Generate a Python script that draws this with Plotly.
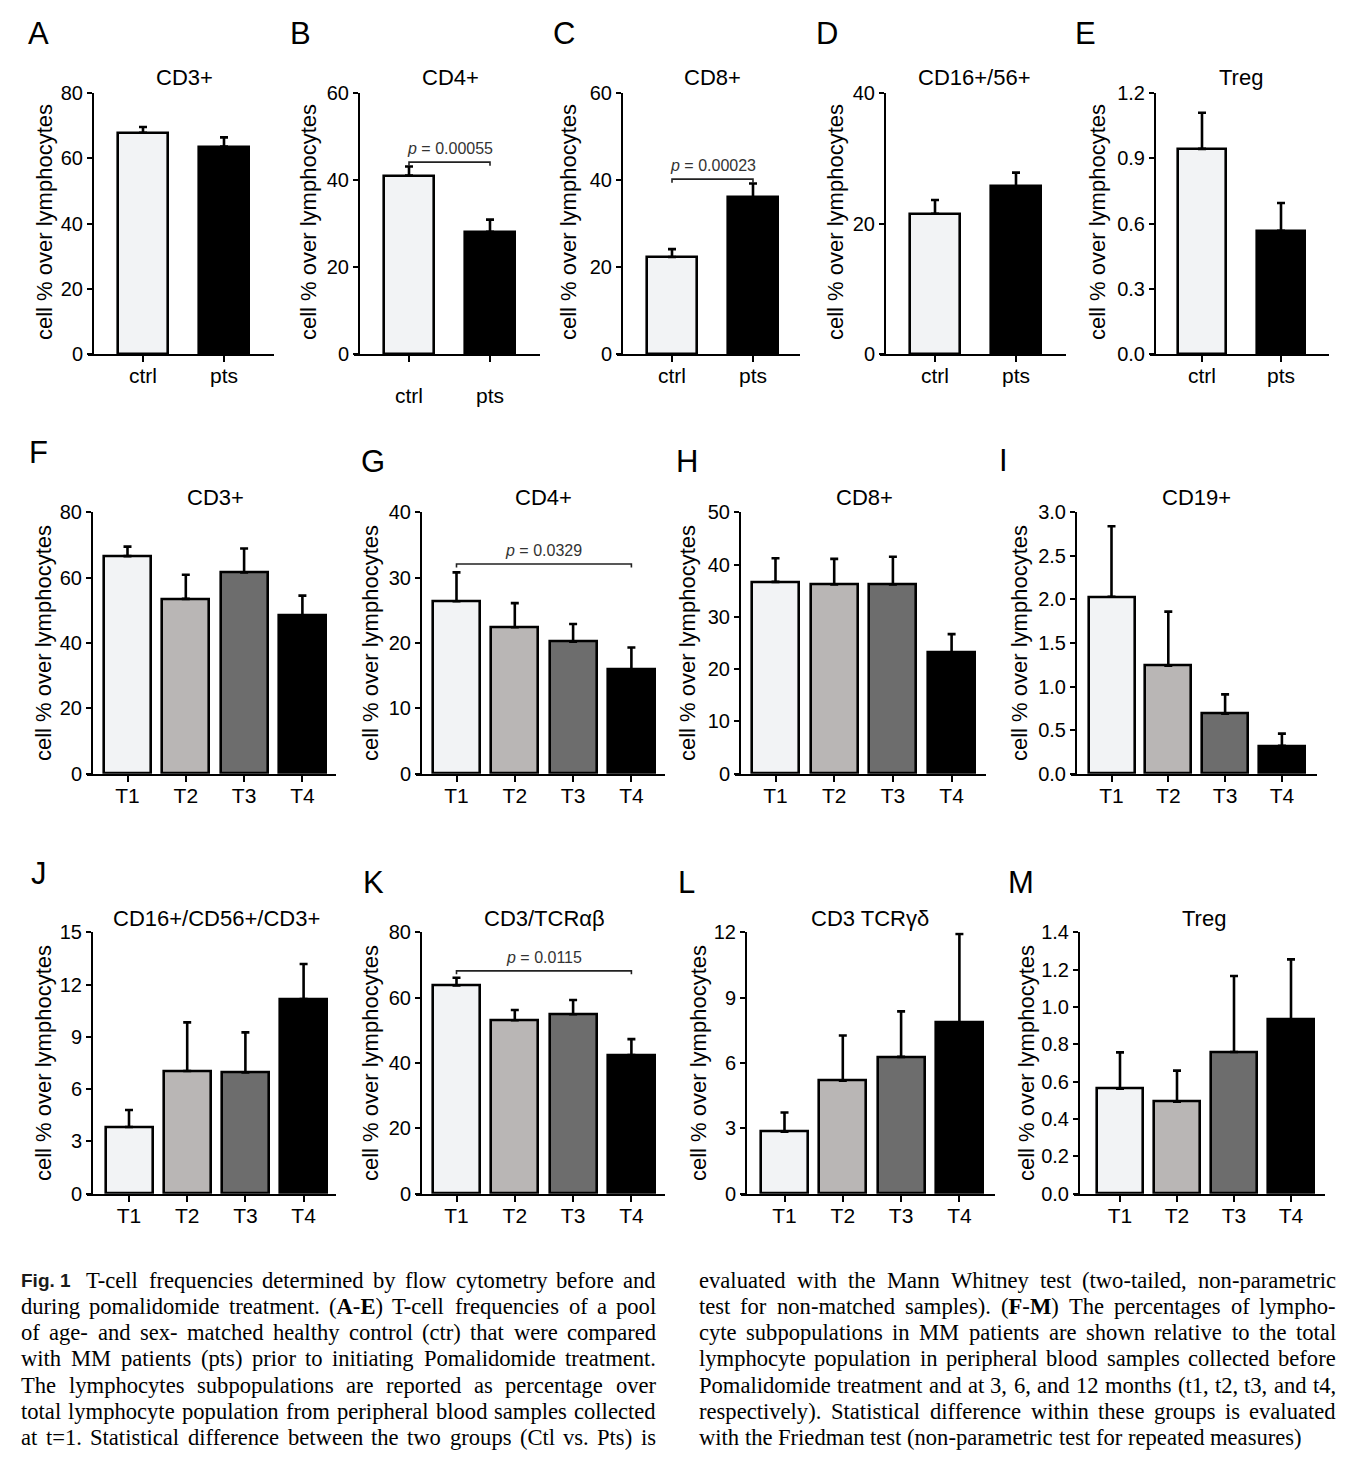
import plotly.graph_objects as go

# ------------------------------------------------------------------ data
groups_ab = ["ctrl", "pts"]
timepoints = ["T1", "T2", "T3", "T4"]

colors_ab = ["#f2f3f5", "#000000"]
colors_t = ["#f2f3f5", "#b9b6b5", "#6d6d6d", "#000000"]

# A-E : ctrl vs pts (mean, SEM)
cd3_pre_mean = [67.8, 63.6]
cd3_pre_sem = [1.8, 2.8]
cd4_pre_mean = [41.0, 28.1]
cd4_pre_sem = [2.1, 2.8]
cd8_pre_mean = [22.3, 36.0]
cd8_pre_sem = [1.8, 3.2]
nk_pre_mean = [21.5, 25.7]
nk_pre_sem = [2.1, 2.1]
treg_pre_mean = [0.943, 0.566]
treg_pre_sem = [0.166, 0.128]

# F-M : T1..T4 (mean, SEM)
cd3_t_mean = [66.6, 53.5, 61.6, 48.4]
cd3_t_sem = [2.9, 7.4, 7.3, 6.1]
cd4_t_mean = [26.4, 22.4, 20.2, 15.9]
cd4_t_sem = [4.4, 3.7, 2.7, 3.4]
cd8_t_mean = [36.7, 36.2, 36.2, 23.2]
cd8_t_sem = [4.5, 4.9, 5.3, 3.5]
cd19_t_mean = [2.03, 1.24, 0.69, 0.32]
cd19_t_sem = [0.81, 0.62, 0.22, 0.14]
nkt_t_mean = [3.83, 7.04, 6.96, 11.17]
nkt_t_sem = [0.97, 2.79, 2.30, 2.01]
tcrab_t_mean = [63.7, 53.1, 54.9, 42.4]
tcrab_t_sem = [2.4, 3.1, 4.4, 4.9]
tcrgd_t_mean = [2.85, 5.19, 6.28, 7.87]
tcrgd_t_sem = [0.88, 2.07, 2.09, 4.05]
treg_t_mean = [0.563, 0.493, 0.759, 0.934]
treg_t_sem = [0.194, 0.166, 0.407, 0.321]

# y tick values / labels
ticks_0_80 = [0, 20, 40, 60, 80]
ticks_0_60 = [0, 20, 40, 60]
ticks_0_40_20 = [0, 20, 40]
ticks_0_40_10 = [0, 10, 20, 30, 40]
ticks_0_50 = [0, 10, 20, 30, 40, 50]
ticks_treg_pre = [0.0, 0.3, 0.6, 0.9, 1.2]
ticks_treg_pre_lbl = ["0.0", "0.3", "0.6", "0.9", "1.2"]
ticks_cd19 = [0.0, 0.5, 1.0, 1.5, 2.0, 2.5, 3.0]
ticks_cd19_lbl = ["0.0", "0.5", "1.0", "1.5", "2.0", "2.5", "3.0"]
ticks_0_15 = [0, 3, 6, 9, 12, 15]
ticks_0_12 = [0, 3, 6, 9, 12]
ticks_treg_t = [0.0, 0.2, 0.4, 0.6, 0.8, 1.0, 1.2, 1.4]
ticks_treg_t_lbl = ["0.0", "0.2", "0.4", "0.6", "0.8", "1.0", "1.2", "1.4"]

# significance brackets: panel, p-value, bracket level
sig_panels = ["B", "C", "G", "K"]
sig_pvalues = ["0.00055", "0.00023", "0.0329", "0.0115"]
sig_levels = [44.1, 40.2, 32.1, 68.2]

ytitle = "cell % over lymphocytes"

caption_left = [
    "Fig. 1 T-cell frequencies determined by flow cytometry before and",
    "during pomalidomide treatment. (A-E) T-cell frequencies of a pool",
    "of age- and sex- matched healthy control (ctr) that were compared",
    "with MM patients (pts) prior to initiating Pomalidomide treatment.",
    "The lymphocytes subpopulations are reported as percentage over",
    "total lymphocyte population from peripheral blood samples collected",
    "at t=1. Statistical difference between the two groups (Ctl vs. Pts) is",
]
caption_right = [
    "evaluated with the Mann Whitney test (two-tailed, non-parametric",
    "test for non-matched samples). (F-M) The percentages of lympho-",
    "cyte subpopulations in MM patients are shown relative to the total",
    "lymphocyte population in peripheral blood samples collected before",
    "Pomalidomide treatment and at 3, 6, and 12 months (t1, t2, t3, and t4,",
    "respectively). Statistical difference within these groups is evaluated",
    "with the Friedman test (non-parametric test for repeated measures)",
]

# ------------------------------------------------------------------ layout specs
W, H = 1366, 1468
SANS = "Liberation Sans, Arial, sans-serif"
SERIF = "Liberation Serif, Times New Roman, serif"
TICK_FS = 20
XOVER = 5  # x-axis line overhang to the left of the y-axis (px)

rows_px = {1: (93.0, 354.0), 2: (512.3, 773.7), 3: (932.3, 1193.7)}
title_y = {1: 78, 2: 498, 3: 918}
ytitle_y = {1: 222, 2: 643, 3: 1063}

panels = [
    # letter, title, cats, colors, mean, sem, ymax, ticks, ticklabels, row,
    # left, right, c0, spacing, barw, title_x, letter_xy, ytitle_x
    ("A", "CD3+", groups_ab, colors_ab, cd3_pre_mean, cd3_pre_sem, 80, ticks_0_80, None, 1,
     93, 274, 143, 81, 50, 184, (38, 33), 45),
    ("B", "CD4+", groups_ab, colors_ab, cd4_pre_mean, cd4_pre_sem, 60, ticks_0_60, None, 1,
     359, 540, 409, 81, 50, 450, (300, 33), 309),
    ("C", "CD8+", groups_ab, colors_ab, cd8_pre_mean, cd8_pre_sem, 60, ticks_0_60, None, 1,
     622, 800, 672, 81, 50, 712, (564, 33), 569),
    ("D", "CD16+/56+", groups_ab, colors_ab, nk_pre_mean, nk_pre_sem, 40, ticks_0_40_20, None, 1,
     885, 1066, 935, 81, 50, 975, (827, 33), 836),
    ("E", "Treg", groups_ab, colors_ab, treg_pre_mean, treg_pre_sem, 1.2, ticks_treg_pre, ticks_treg_pre_lbl, 1,
     1155, 1329, 1202, 79, 48, 1241, (1085, 33), 1098),
    ("F", "CD3+", timepoints, colors_t, cd3_t_mean, cd3_t_sem, 80, ticks_0_80, None, 2,
     92, 336, 127.5, 58.3, 47, 215, (38, 452), 43),
    ("G", "CD4+", timepoints, colors_t, cd4_t_mean, cd4_t_sem, 40, ticks_0_40_10, None, 2,
     421, 665, 456.5, 58.3, 47, 543, (373, 462), 370),
    ("H", "CD8+", timepoints, colors_t, cd8_t_mean, cd8_t_sem, 50, ticks_0_50, None, 2,
     740, 986, 775.5, 58.7, 47, 864, (687, 462), 687),
    ("I", "CD19+", timepoints, colors_t, cd19_t_mean, cd19_t_sem, 3.0, ticks_cd19, ticks_cd19_lbl, 2,
     1076, 1317, 1111.5, 56.8, 46, 1196, (1003, 460), 1019),
    ("J", "CD16+/CD56+/CD3+", timepoints, colors_t, nkt_t_mean, nkt_t_sem, 15, ticks_0_15, None, 3,
     92, 336, 129, 58.2, 47, 216, (39, 873), 43),
    ("K", "CD3/TCRαβ", timepoints, colors_t, tcrab_t_mean, tcrab_t_sem, 80, ticks_0_80, None, 3,
     421, 665, 456.5, 58.3, 47, 544, (373, 882), 370),
    ("L", "CD3 TCRγδ", timepoints, colors_t, tcrgd_t_mean, tcrgd_t_sem, 12, ticks_0_12, None, 3,
     746, 995, 784.5, 58.3, 47, 870, (687, 882), 698),
    ("M", "Treg", timepoints, colors_t, treg_t_mean, treg_t_sem, 1.4, ticks_treg_t, ticks_treg_t_lbl, 3,
     1079, 1325, 1120, 57, 46, 1204, (1021, 882), 1026),
]


def px_x(v):
    return v / W


def px_y(v):
    return 1 - v / H


fig = go.Figure()
layout = {}
annotations = []
axis_ref = {}

for i, p in enumerate(panels):
    (letter, title, cats, cols, mean, sem, ymax, yt, ytl, row,
     left, right, c0, sp, bw, tx, lxy, ytx) = p
    k = i + 1
    sfx = "" if k == 1 else str(k)
    xr, yr = "x" + sfx, "y" + sfx
    axis_ref[letter] = (xr, yr, len(cats), ymax, row)
    top, bot = rows_px[row]
    n = len(cats)
    pos = list(range(n))
    xleft = left - XOVER
    fig.add_trace(go.Bar(
        x=pos, y=mean, width=bw / sp,
        marker=dict(color=cols, line=dict(color="black", width=2.6)),
        error_y=dict(type="data", symmetric=False, array=sem, arrayminus=[0] * n,
                     color="black", thickness=2.6, width=4),
        xaxis=xr, yaxis=yr, showlegend=False, hoverinfo="skip",
    ))
    xa = dict(
        domain=[px_x(xleft), px_x(right)], anchor=yr, automargin=False,
        range=[-(c0 - xleft) / sp, (right - c0) / sp],
        tickmode="array", tickvals=pos, ticktext=cats,
        showline=True, linecolor="black", linewidth=2,
        ticks="outside", ticklen=6, tickwidth=2, tickcolor="black",
        showgrid=False, zeroline=False, fixedrange=True,
        ticklabelstandoff=16 if letter == "B" else -4,
        tickfont=dict(family=SANS, size=TICK_FS + 1, color="black"),
    )
    ya = dict(
        domain=[px_y(bot), px_y(top)], anchor="free", position=px_x(left), automargin=False,
        range=[0, ymax], tickmode="array", tickvals=yt,
        showline=True, linecolor="black", linewidth=2,
        ticks="outside", ticklen=5, tickwidth=2, tickcolor="black",
        showgrid=False, zeroline=False, fixedrange=True,
        tickfont=dict(family=SANS, size=TICK_FS, color="black"),
    )
    if ytl is not None:
        ya["ticktext"] = ytl
    layout["xaxis" + sfx] = xa
    layout["yaxis" + sfx] = ya

    annotations.append(dict(text=title, x=px_x(tx), y=px_y(title_y[row]), xref="paper", yref="paper",
                            xanchor="center", yanchor="middle", showarrow=False,
                            font=dict(family=SANS, size=22, color="black")))
    annotations.append(dict(text=letter, x=px_x(lxy[0]), y=px_y(lxy[1]), xref="paper", yref="paper",
                            xanchor="center", yanchor="middle", showarrow=False,
                            font=dict(family=SANS, size=31, color="black")))
    annotations.append(dict(text=ytitle, x=px_x(ytx), y=px_y(ytitle_y[row]), xref="paper", yref="paper",
                            xanchor="center", yanchor="middle", showarrow=False, textangle=-90,
                            font=dict(family=SANS, size=22, color="black")))

# significance brackets
for letter, pv, lvl in zip(sig_panels, sig_pvalues, sig_levels):
    xr, yr, n, ymax, row = axis_ref[letter]
    top, bot = rows_px[row]
    drop = 3.5 * ymax / (bot - top)
    fig.add_trace(go.Scatter(
        x=[0, 0, n - 1, n - 1], y=[lvl - drop, lvl, lvl, lvl - drop], mode="lines",
        line=dict(color="#222222", width=1.6), xaxis=xr, yaxis=yr,
        showlegend=False, hoverinfo="skip", cliponaxis=False,
    ))
    annotations.append(dict(text="<i>p</i> = " + pv, x=(n - 1) / 2, y=lvl, xref=xr, yref=yr,
                            xanchor="center", yanchor="bottom", yshift=3, showarrow=False,
                            font=dict(family=SANS, size=16, color="#333333")))

# ------------------------------------------------------------------ caption (justified)
TIMES = {' ': 250, '!': 333, '%': 833, '(': 333, ')': 333, ',': 250, '-': 333, '.': 250, '/': 278,
         ':': 278, ';': 278, '=': 564, '?': 444,
         'A': 722, 'B': 667, 'C': 667, 'D': 722, 'E': 611, 'F': 556, 'G': 722, 'H': 722, 'I': 333,
         'J': 389, 'K': 722, 'L': 611, 'M': 889, 'N': 722, 'O': 722, 'P': 556, 'Q': 722, 'R': 667,
         'S': 556, 'T': 611, 'U': 722, 'V': 722, 'W': 944, 'X': 722, 'Y': 722, 'Z': 611,
         'a': 444, 'b': 500, 'c': 444, 'd': 500, 'e': 444, 'f': 333, 'g': 500, 'h': 500, 'i': 278,
         'j': 278, 'k': 500, 'l': 278, 'm': 778, 'n': 500, 'o': 500, 'p': 500, 'q': 500, 'r': 333,
         's': 389, 't': 278, 'u': 500, 'v': 500, 'w': 722, 'x': 500, 'y': 500, 'z': 444}
for d in "0123456789":
    TIMES[d] = 500
TIMESB = {'A': 722, 'E': 667, 'F': 611, 'M': 944, '(': 333, ')': 333, '-': 333}
ARIALB = {'F': 611, 'i': 278, 'g': 611, '.': 278, ' ': 278, '1': 556}

CAP_FS = 22.6
FIG_FS = 19
line_y = [1280, 1306.3, 1332.6, 1358.9, 1385.2, 1411.5, 1437.8]


def tokens(line):
    if line.startswith("Fig. 1 "):
        return ["Fig. 1"] + line[7:].split(" ")
    return line.split(" ")


def tok_width(t):
    if t == "Fig. 1":
        return sum(ARIALB[c] for c in t) * FIG_FS / 1000
    if t in ("(A-E)", "(F-M)"):
        return sum(TIMESB[c] for c in t) * CAP_FS / 1000
    return sum(TIMES.get(c, 500) for c in t) * CAP_FS / 1000


def tok_html(t):
    if t == "(A-E)":
        return "(<b>A</b>-<b>E</b>)"
    if t == "(F-M)":
        return "(<b>F</b>-<b>M</b>)"
    return t


def place_column(lines, x0, x1, last_justified):
    for li, line in enumerate(lines):
        toks = tokens(line)
        ws = [tok_width(t) for t in toks]
        extra = 6 if toks[0] == "Fig. 1" else 0
        justify = last_justified or li < len(lines) - 1
        if justify and len(toks) > 1:
            gap = (x1 - x0 - sum(ws) - extra) / (len(toks) - 1)
        else:
            gap = 0.25 * CAP_FS
        x = x0
        for j, (t, w) in enumerate(zip(toks, ws)):
            if t == "Fig. 1":
                font = dict(family=SANS, size=FIG_FS, color="#1a1a1a")
                txt = "<b>Fig. 1</b>"
            else:
                font = dict(family=SERIF, size=CAP_FS, color="black")
                txt = tok_html(t)
            annotations.append(dict(text=txt, x=px_x(x), y=px_y(line_y[li]), xref="paper", yref="paper",
                                    xanchor="left", yanchor="middle", showarrow=False, borderpad=0,
                                    font=font))
            x += w + gap + (extra if j == 0 else 0)


place_column(caption_left, 20, 655, True)
place_column(caption_right, 698, 1335, False)

fig.update_layout(
    width=W, height=H,
    margin=dict(l=0, r=0, t=0, b=0, pad=0, autoexpand=False),
    paper_bgcolor="white", plot_bgcolor="white",
    annotations=annotations, bargap=0, **layout,
)

fig.write_html(
    "out.html",
    config={"displayModeBar": False},
    post_script="document.body.style.margin='0';document.body.style.padding='0';",
)
